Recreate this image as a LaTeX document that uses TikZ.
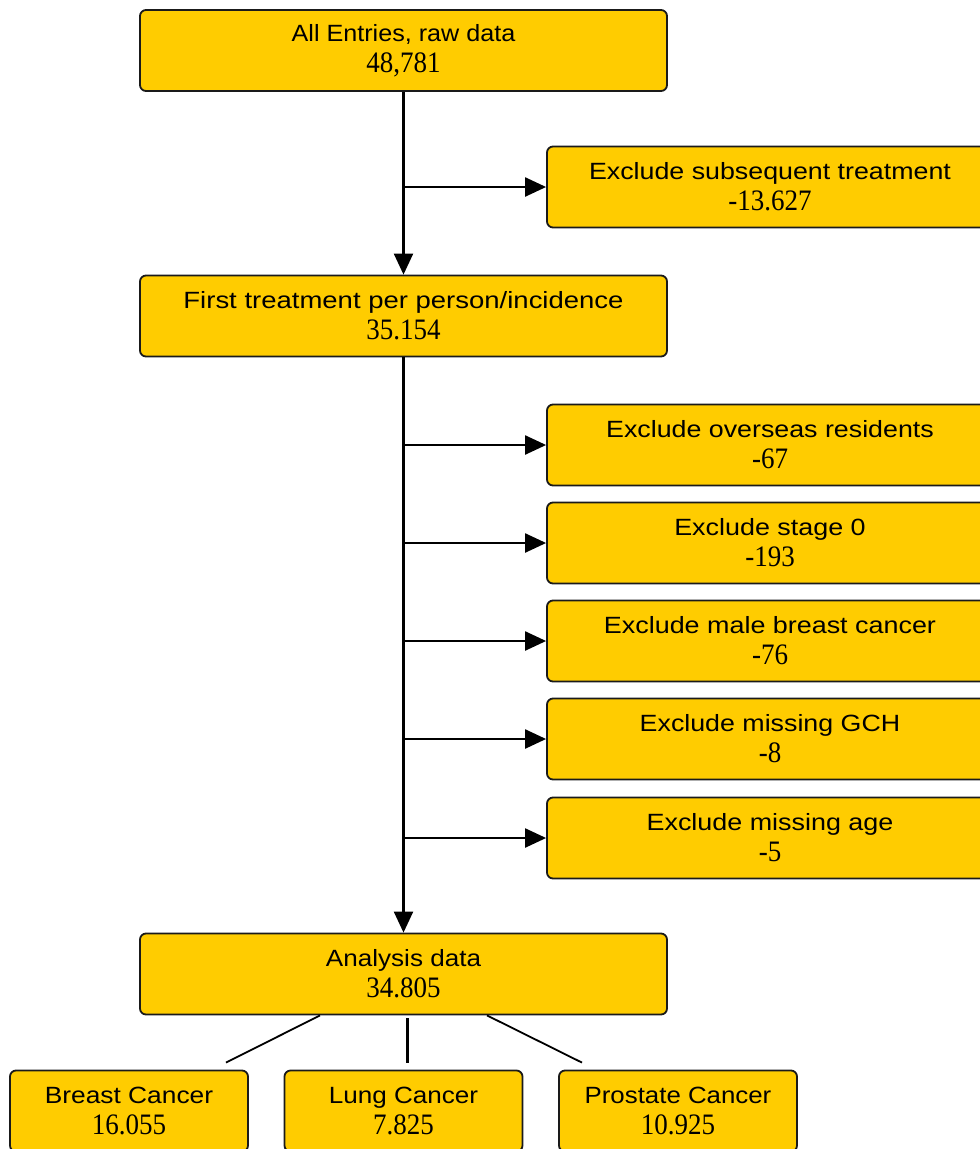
\documentclass[tikz,border=0pt]{standalone}
\usepackage{graphicx}
\usepackage{fontspec}
\setmainfont{Liberation Serif}
\setsansfont{Liberation Sans}
\usetikzlibrary{arrows.meta}
\definecolor{boxfill}{HTML}{FFCC00}
\definecolor{boxline}{HTML}{1A1A1A}
\newcommand{\wtxt}[2][1.16]{\scalebox{#1}[1]{\sffamily\fontsize{23.5}{28}\selectfont #2}}
\newcommand{\ntxt}[1]{\scalebox{1}[1.1]{\rmfamily\fontsize{27}{28}\selectfont #1}}
\begin{document}
\begin{tikzpicture}[x=1pt,y=-1pt,
  box/.style={draw=boxline, line width=1.8pt, fill=boxfill, rounded corners=6pt,
    minimum height=81pt, inner sep=0pt, align=center, font=\fontsize{23}{28}\selectfont},
  mainbox/.style={box, minimum width=527pt},
  exbox/.style={box, minimum width=446pt},
  subbox/.style={box, minimum width=238pt},
  conn/.style={line width=2.2pt, -{Triangle[length=21pt,width=19pt]}},
  plain/.style={line width=1.8pt}]
\useasboundingbox (0,0) rectangle (980,1149);
\clip (0,0) rectangle (980,1149);
\node[mainbox] (all) at (403.5,50.5) {\wtxt[1.07]{All Entries, raw data}\\[3pt]\ntxt{48,781}};
\node[exbox] (sub) at (770,187) {\wtxt[1.14]{Exclude subsequent treatment}\\[3pt]\ntxt{-13.627}};
\node[mainbox] (first) at (403.5,316) {\wtxt[1.17]{First treatment per person/incidence}\\[3pt]\ntxt{35.154}};
\node[exbox] (over) at (770,445) {\wtxt[1.14]{Exclude overseas residents}\\[3pt]\ntxt{-67}};
\node[exbox] (stage) at (770,543) {\wtxt[1.145]{Exclude stage 0}\\[3pt]\ntxt{-193}};
\node[exbox] (male) at (770,641) {\wtxt[1.145]{Exclude male breast cancer}\\[3pt]\ntxt{-76}};
\node[exbox] (gch) at (770,739) {\wtxt[1.14]{Exclude missing GCH}\\[3pt]\ntxt{-8}};
\node[exbox] (age) at (770,838) {\wtxt[1.145]{Exclude missing age}\\[3pt]\ntxt{-5}};
\node[mainbox] (ana) at (403.5,974) {\wtxt[1.11]{Analysis data}\\[3pt]\ntxt{34.805}};
\node[subbox] (breast) at (129,1111) {\wtxt[1.12]{Breast Cancer}\\[3pt]\ntxt{16.055}};
\node[subbox] (lung) at (403.5,1111) {\wtxt[1.11]{Lung Cancer}\\[3pt]\ntxt{7.825}};
\node[subbox] (prost) at (678,1111) {\wtxt[1.10]{Prostate Cancer}\\[3pt]\ntxt{10.925}};
% trunk
\draw[conn] (all.south) -- (first.north);
\draw[conn] (all.south |- sub.west) -- (sub.west);
\draw[conn] (first.south) -- (ana.north);
\foreach \n in {over,stage,male,gch,age}
  \draw[conn] (first.south |- \n.west) -- (\n.west);
% lower fan
\draw[plain] ([xshift=-83.5pt]ana.south) -- ([xshift=97pt,yshift=7pt]breast.north);
\draw[line width=3pt] ([xshift=3.5pt,yshift=-3pt]ana.south) -- ([xshift=3.5pt,yshift=7pt]lung.north);
\draw[plain] ([xshift=83.5pt]ana.south) -- ([xshift=-96pt,yshift=7pt]prost.north);
\end{tikzpicture}
\end{document}
